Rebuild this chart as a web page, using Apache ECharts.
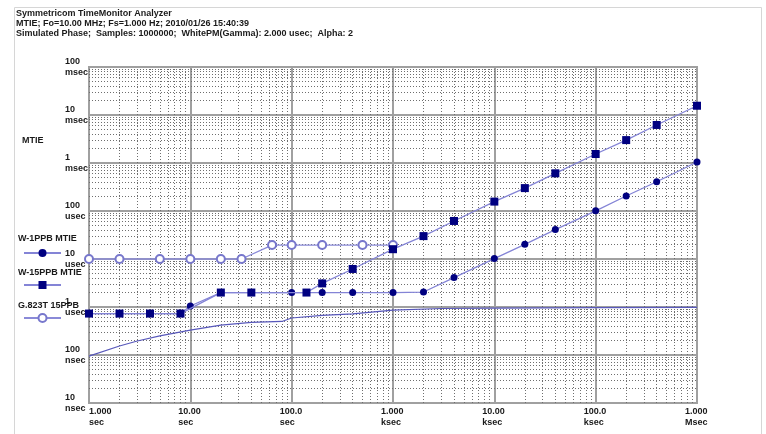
<!DOCTYPE html>
<html><head><meta charset="utf-8">
<script src="https://cdn.jsdelivr.net/npm/echarts@6/dist/echarts.min.js"></script>
<style>html,body{margin:0;padding:0;background:#fff}#c{width:766px;height:434px}</style>
</head><body><div id="c"></div>
<script>
// ---- text ----
const headerLines = [
  'Symmetricom TimeMonitor Analyzer',
  'MTIE; Fo=10.00 MHz; Fs=1.000 Hz; 2010/01/26 15:40:39',
  'Simulated Phase;  Samples: 1000000;  WhitePM(Gamma): 2.000 usec;  Alpha: 2'
];
const yAxisTitle = 'MTIE';
const xTickNums  = ['1.000', '10.00', '100.0', '1.000', '10.00', '100.0', '1.000'];
const xTickUnits = ['sec', 'sec', 'sec', 'ksec', 'ksec', 'ksec', 'Msec'];
const yTickNums  = ['10', '100', '1', '10', '100', '1', '10', '100'];
const yTickUnits = ['nsec', 'nsec', 'usec', 'usec', 'usec', 'msec', 'msec', 'msec'];
const seriesNames = ['W-1PPB MTIE', 'W-15PPB MTIE', 'G.823T 15PPB'];

// ---- data (tau in seconds, MTIE in microseconds) ----
const w1Tau  = [1, 2, 4, 8, 10, 20, 40, 100, 200, 400, 1000, 2000, 4000, 10000, 20000, 40000, 100000, 200000, 400000, 1000000];
const w1Val  = [0.73, 0.73, 0.73, 0.73, 1.05, 2.0, 2.0, 2.0, 2.0, 2.0, 2.0, 2.05, 4.1, 10.2, 20.2, 41, 101, 205, 407, 1050];
const w15Tau = [1, 2, 4, 8, 20, 40, 140, 200, 400, 1000, 2000, 4000, 10000, 20000, 40000, 100000, 200000, 400000, 1000000];
const w15Val = [0.73, 0.73, 0.73, 0.73, 2.0, 2.0, 2.0, 3.1, 6.2, 16, 30, 62, 157, 300, 610, 1540, 3000, 6200, 15600];
const gTau   = [1, 2, 5, 10, 20, 32, 64, 100, 200, 500, 1000];
const gVal   = [10, 10, 10, 10, 10, 10, 19.5, 19.5, 19.5, 19.5, 19.5];
const mtTau  = [1, 2, 3, 5, 10, 20, 40, 80, 100, 200, 400, 1000, 3000, 10000, 100000, 1000000];
const mtVal  = [0.095, 0.154, 0.196, 0.25, 0.33, 0.42, 0.48, 0.5, 0.59, 0.67, 0.72, 0.86, 0.93, 0.95, 0.97, 0.98];

const FONT = 'Liberation Sans';
const TXT = '#1a1a1a';
const pair = (xs, ys) => xs.map((x, i) => [x, ys[i]]);

// minor grid positions (2..9 within each decade)
const xMinor = [], yMinor = [];
for (let d = 0; d < 6; d++) for (let k = 2; k <= 9; k++) xMinor.push({ xAxis: k * Math.pow(10, d) });
for (let d = -2; d < 5; d++) for (let k = 2; k <= 9; k++) yMinor.push({ yAxis: +(k * Math.pow(10, d)).toPrecision(6) });

const chart = echarts.init(document.getElementById('c'), null, { renderer: 'canvas' });
const labelFont = { fontFamily: FONT, fontSize: 9, fontWeight: 'bold', color: TXT };

chart.setOption({
  animation: false,
  backgroundColor: '#fff',
  title: [
    { text: headerLines.join('\n'), left: 16, top: 9, padding: 0,
      textStyle: Object.assign({}, labelFont, { lineHeight: 9.75 }) },
    { text: yAxisTitle, left: 22, top: 135, padding: 0,
      textStyle: Object.assign({}, labelFont, { lineHeight: 11 }) }
  ],
  graphic: [
    { type: 'rect', shape: { x: 14.5, y: 7.5, width: 747, height: 460 },
      style: { fill: 'none', stroke: '#d6d6d6', lineWidth: 1 }, silent: true, z: -1 },
    { type: 'text', left: 18, top: 234, style: { text: seriesNames[0], font: 'bold 9px ' + FONT, fill: TXT } },
    { type: 'text', left: 18, top: 268, style: { text: seriesNames[1], font: 'bold 9px ' + FONT, fill: TXT } },
    { type: 'text', left: 18, top: 301, style: { text: seriesNames[2], font: 'bold 9px ' + FONT, fill: TXT } }
  ],
  legend: {
    orient: 'vertical', left: 23, top: 249, itemWidth: 37, itemHeight: 10, itemGap: 24,
    data: seriesNames, formatter: () => '', selectedMode: false,
    textStyle: { fontSize: 6, lineHeight: 6 }, padding: 0
  },
  grid: { left: 89, top: 67, width: 608, height: 336, show: true, borderColor: '#a0a0a0', borderWidth: 2 },
  xAxis: {
    type: 'log', logBase: 10, min: 1, max: 1e6, splitNumber: 6,
    axisLine: { show: true, lineStyle: { color: '#a0a0a0', width: 2 } },
    axisTick: { show: false },
    splitLine: { show: true, lineStyle: { color: '#a0a0a0', width: 2 } },
    axisLabel: {
      margin: 3, alignMinLabel: 'left', alignMaxLabel: 'center', hideOverlap: false,
      formatter: (v) => {
        const i = Math.round(Math.log10(v));
        return '{n|' + xTickNums[i] + '}\n{u|' + xTickUnits[i] + '}';
      },
      rich: {
        n: Object.assign({ width: 24, align: 'left', lineHeight: 11 }, labelFont),
        u: Object.assign({ width: 24, align: 'left', lineHeight: 11 }, labelFont)
      }
    }
  },
  yAxis: {
    type: 'log', logBase: 10, min: 0.01, max: 1e5, splitNumber: 7,
    axisLine: { show: true, lineStyle: { color: '#a0a0a0', width: 2 } },
    axisTick: { show: false },
    splitLine: { show: true, lineStyle: { color: '#a0a0a0', width: 2 } },
    axisLabel: Object.assign({
      align: 'left', margin: 24, lineHeight: 11, hideOverlap: false,
      formatter: (v) => {
        const i = Math.round(Math.log10(v)) + 2;
        return yTickNums[i] + '\n' + yTickUnits[i];
      }
    }, labelFont)
  },
  series: [
    { type: 'line', name: 'grid', data: [], silent: true, z: 1,
      markLine: { silent: true, z: 1, symbol: ['none', 'none'], label: { show: false },
        lineStyle: { color: '#6e6e6e', width: 1, type: [1, 2] },
        emphasis: { disabled: true },
        data: xMinor.concat(yMinor) } },
    { type: 'line', name: 'MTIE', data: pair(mtTau, mtVal), symbol: 'none', z: 3,
      lineStyle: { color: '#5858bb', width: 1.2 } },
    { type: 'line', name: seriesNames[2], data: pair(gTau, gVal), symbol: 'emptyCircle', symbolSize: 8, z: 4,
      itemStyle: { color: '#7777cc', borderWidth: 1.3 }, lineStyle: { color: '#8a8ad8', width: 1.3 } },
    { type: 'line', name: seriesNames[0], data: pair(w1Tau, w1Val), symbol: 'circle', symbolSize: 7, z: 5,
      itemStyle: { color: '#000080' }, lineStyle: { color: '#8484d6', width: 1.3 } },
    { type: 'line', name: seriesNames[1], data: pair(w15Tau, w15Val), symbol: 'rect', symbolSize: 8, z: 6,
      itemStyle: { color: '#000080' }, lineStyle: { color: '#8484d6', width: 1.3 } }
  ]
});
</script></body></html>
